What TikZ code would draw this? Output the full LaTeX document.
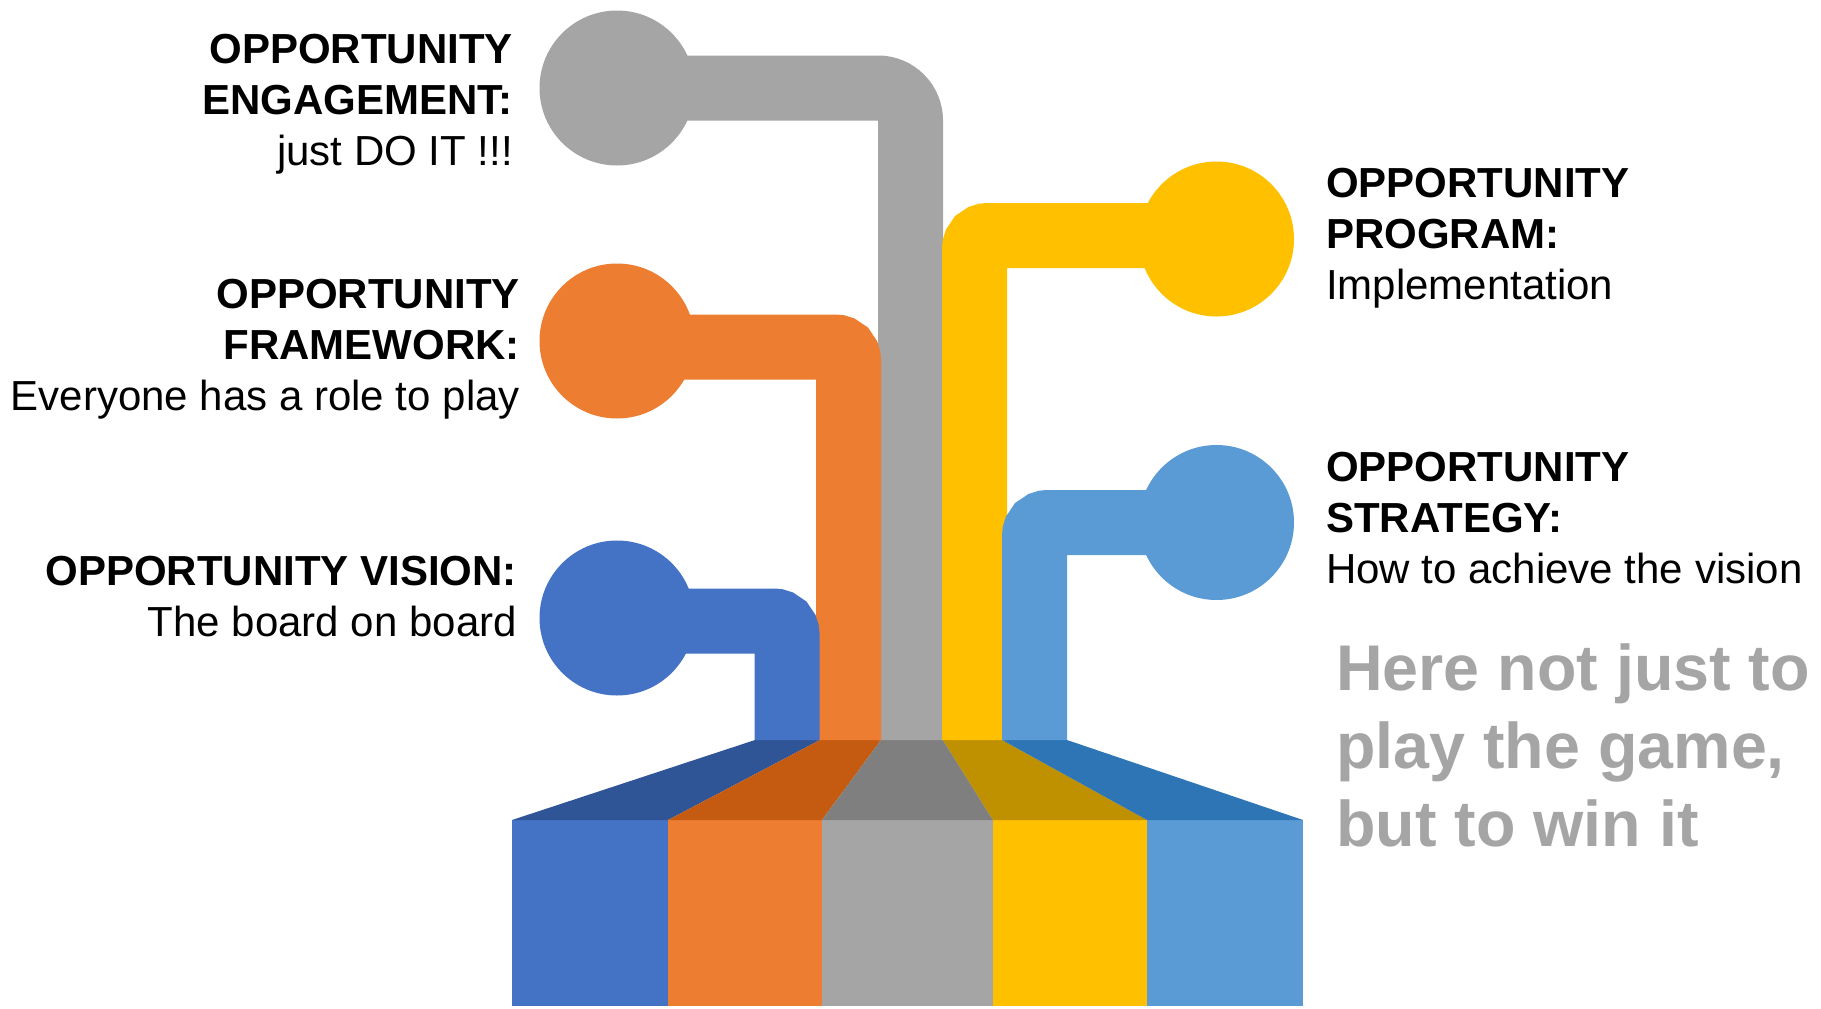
\documentclass[tikz,border=0pt]{standalone}
\usepackage{fontspec}
\setmainfont{Liberation Sans}
\definecolor{cblue}{HTML}{4472C4}
\definecolor{corange}{HTML}{ED7D31}
\definecolor{cgray}{HTML}{A5A5A5}
\definecolor{cyellow}{HTML}{FFC000}
\definecolor{clblue}{HTML}{5B9BD5}
\definecolor{dblue}{HTML}{2F5597}
\definecolor{dorange}{HTML}{C55A11}
\definecolor{dgray}{HTML}{7F7F7F}
\definecolor{dyellow}{HTML}{BF9000}
\definecolor{dlblue}{HTML}{2E75B6}
\tikzset{
  pipe/.style={line width=65pt, line cap=butt},
  bulb/.style={circle, minimum size=155pt, inner sep=0pt, outer sep=0pt, draw=none},
  lefttxt/.style={anchor=base east, align=right, inner sep=0pt, font=\fontsize{42}{51}\selectfont},
  righttxt/.style={anchor=base west, align=left, inner sep=0pt, font=\fontsize{42}{51}\selectfont},
  slogan/.style={anchor=base west, align=left, inner sep=0pt, text=cgray, font=\bfseries\fontsize{64.6}{78}\selectfont},
}
\begin{document}
\begin{tikzpicture}[x=1pt,y=-1pt]
\useasboundingbox (0,0) rectangle (1821,1009);
% base columns
\fill[cblue]   (512,820) rectangle (668,1006);
\fill[corange] (668,820) rectangle (822,1006);
\fill[cgray]   (822,820) rectangle (993,1006);
\fill[cyellow] (993,820) rectangle (1147,1006);
\fill[clblue]  (1147,820) rectangle (1303,1006);
% trapezoid
\fill[dblue]   (512,820) -- (755,740) -- (820,740) -- (668,820) -- cycle;
\fill[dorange] (668,820) -- (820,740) -- (881,740) -- (822,820) -- cycle;
\fill[dgray]   (822,820) -- (881,740) -- (943,740) -- (993,820) -- cycle;
\fill[dyellow] (993,820) -- (943,740) -- (1002,740) -- (1147,820) -- cycle;
\fill[dlblue]  (1147,820) -- (1002,740) -- (1067,740) -- (1303,820) -- cycle;
% circles
\node[bulb, fill=cgray]   (cE) at (617,88) {};
\node[bulb, fill=corange] (cF) at (617,341) {};
\node[bulb, fill=cblue]   (cV) at (617,618) {};
\node[bulb, fill=cyellow] (cP) at (1216.5,239) {};
\node[bulb, fill=clblue]  (cS) at (1216.5,522.5) {};
% stem ends
\coordinate (sE) at (910.5,740);
\coordinate (sF) at (848.5,740);
\coordinate (sV) at (787,740);
\coordinate (sP) at (974.5,740);
\coordinate (sS) at (1034.5,740);
% pipes
\draw[pipe, cgray, rounded corners=32.5pt] (cE.center) -| (sE);
\draw[pipe, corange, rounded corners=13.5pt] ([yshift=-6pt]cF.center) -| (sF);
\draw[pipe, cblue, rounded corners=13.5pt] ([yshift=-3pt]cV.center) -| (sV);
\draw[pipe, cyellow, rounded corners=13.5pt] ([yshift=3.5pt]cP.center) -| (sP);
\draw[pipe, clblue, rounded corners=13.5pt] (cS.center) -| (sS);
% texts (anchor = baseline of last line)
\node[lefttxt] (tE) at (513,165) {{\bfseries OPPORTUNITY}\\{\bfseries ENGAGEMENT:}\\just DO IT !!!};
\node[lefttxt] (tF) at (520,410) {{\bfseries OPPORTUNITY}\\{\bfseries FRAMEWORK:}\\Everyone has a role to play};
\node[lefttxt] (tV) at (517,636) {{\bfseries OPPORTUNITY VISION:}\\The board on board};
\node[righttxt] (tP) at (1326,299) {{\bfseries OPPORTUNITY}\\{\bfseries PROGRAM:}\\Implementation};
\node[righttxt] (tS) at (1326,583) {{\bfseries OPPORTUNITY}\\{\bfseries STRATEGY:}\\How to achieve the vision};
\node[slogan] (tW) at (1336,846) {Here not just to\\play the game,\\but to win it};
\end{tikzpicture}
\end{document}
